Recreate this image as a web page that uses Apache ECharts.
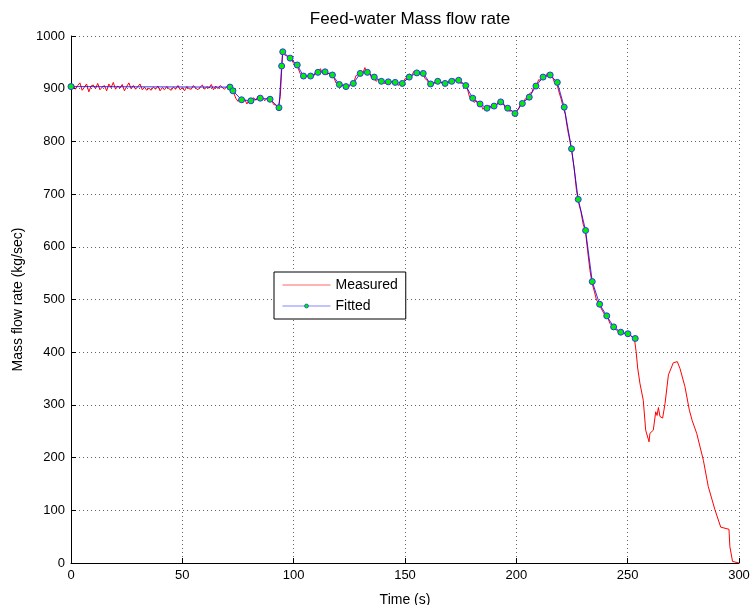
<!DOCTYPE html>
<html>
<head>
<meta charset="utf-8">
<script src="https://cdn.jsdelivr.net/npm/echarts@6/dist/echarts.min.js"></script>
<style>html,body{margin:0;padding:0;background:#fff;}#c{width:754px;height:605px;}</style>
</head>
<body>
<div id="c"></div>
<script>
// Measured flow, sampled every 1 s from t = 0 to t = 253
const sampleStart = 0;
const sampleStep = 1;
const measuredFlow = [
903,908,899,906,911,897,903,909,894,905,907,900,910,898,903,906,896,909,902,912,
899,905,901,908,896,904,911,900,906,899,904,909,898,903,897,901,897,903,899,905,
896,902,898,904,900,897,903,899,906,898,902,896,904,900,899,906,901,898,903,907,
899,904,901,908,898,905,900,906,902,899,904,909,
898,893,882,876,884,873,880,871,879,874,883,878,886,879,884,877,882,876,879,870,869,862,885,
968,964,962,956,955,948,944,939,928,926,919,925,920,929,924,933,929,938,929,935,927,930,922,922,911,912,
902,908,901,907,904,913,912,925,927,935,929,940,929,931,920,924,914,918,910,916,909,915,908,914,909,914,906,912,909,
919,918,928,925,933,927,933,926,931,919,916,907,913,909,917,910,914,907,913,909,917,912,919,914,919,910,911,903,900,
884,885,874,877,867,871,861,866,860,868,863,870,867,877,872,876,862,866,857,859,850,
858,861,873,871,881,879,891,893,906,905,917,916,925,921,930,923,925,913,914,896,882,866,851,823,802,
778,748,707,683,667,643,631,593,557,531,516,499,493,484,476,469,466,455,450,444,442,438,437,435,436,433,433,428,427
];
// Measured flow after the fitted range
const tailTime = [253.8,254.5,255.5,257,258.1,259.6,260,261.5,262.6,263.2,263.8,264.5,265.7,266.8,268.3,270.5,272.3,273.5,275.7,277.7,279,281,284,286.2,289.2,291.8,295.5,295.9,297.1,297.5,300];
const tailFlow = [401,370,341,309,252,230,246,252,287,280,295,278,275,303,357,380,382,369,335,290,270,246,195,145,101,68,64,31,3,0,0];

// Fitted points
const fittedTime = [0,71.4,72.7,76.6,80.8,85,89.4,93.4,94.6,95.1,98.4,101.6,104.4,107.6,110.9,114.1,117.4,120.5,123.5,126.8,129.9,133.1,136.2,139.4,142.5,145.6,148.8,151.9,155.3,158.2,161.5,164.7,168,171,174.1,177.3,180.4,183.7,186.8,190,193,196.1,199.4,202.7,205.8,208.8,212,215.2,218.4,221.5,224.8,227.8,231.1,234.1,237.4,240.6,243.7,246.9,250.1,253.4];
const fittedFlow = [904,903,896,879,877,882,880,864,943,970,958,945,924,924,931,932,926,908,904,910,929,931,922,914,913,912,910,922,930,929,909,914,910,914,916,906,882,871,863,867,875,863,853,872,884,905,922,926,912,865,786,690,631,534,491,469,448,438,435,426];

const xTicks = {min: 0, max: 300, interval: 50};
const yTicks = {min: 0, max: 1000, interval: 100};

const measured = measuredFlow.map((v, i) => [sampleStart + i * sampleStep, v])
  .concat(tailTime.map((t, i) => [t, tailFlow[i]]));
const fitted = fittedTime.map((t, i) => [t, fittedFlow[i]]);

const FONT = '"Liberation Sans", Arial, sans-serif';
const chart = echarts.init(document.getElementById('c'), null, {renderer: 'canvas'});
const gridLine = {show: true, lineStyle: {color: '#666', type: [1, 3], width: 1}};
chart.setOption({
  animation: false,
  backgroundColor: '#fff',
  title: {
    text: 'Feed-water Mass flow rate',
    left: 405, top: 6, textAlign: 'center',
    textStyle: {fontFamily: FONT, fontSize: 17, fontWeight: 'normal', color: '#000'}
  },
  grid: {left: 71, right: 15, top: 36, bottom: 42, containLabel: false, outerBoundsMode: 'none'},
  legend: {
    orient: 'vertical', left: 274, top: 272,
    backgroundColor: '#fff', borderColor: '#000', borderWidth: 1,
    padding: [6, 8, 6, 8], itemGap: 7, itemWidth: 48, itemHeight: 5,
    textStyle: {fontFamily: FONT, fontSize: 14, color: '#000'},
    data: [
      {name: 'Measured', itemStyle: {opacity: 0}, lineStyle: {color: '#ff6666', width: 1}},
      {name: 'Fitted', itemStyle: {color: '#00ee00', borderColor: '#0000ff', borderWidth: 0.5}, lineStyle: {color: '#6666ff', width: 1}}
    ]
  },
  xAxis: {
    type: 'value', min: xTicks.min, max: xTicks.max, interval: xTicks.interval,
    name: 'Time (s)', nameLocation: 'middle', nameGap: 30,
    nameTextStyle: {fontFamily: FONT, fontSize: 14, color: '#000'},
    axisLine: {lineStyle: {color: '#000', width: 1}},
    axisTick: {inside: true, length: 5, lineStyle: {color: '#000'}},
    axisLabel: {fontFamily: FONT, fontSize: 13, color: '#000', margin: 6},
    splitLine: gridLine
  },
  yAxis: {
    type: 'value', min: yTicks.min, max: yTicks.max, interval: yTicks.interval,
    name: 'Mass flow rate (kg/sec)', nameLocation: 'middle', nameGap: 44, nameRotate: 90,
    nameTextStyle: {fontFamily: FONT, fontSize: 14, color: '#000'},
    axisLine: {show: true, lineStyle: {color: '#000', width: 1}},
    axisTick: {show: true, inside: true, length: 5, lineStyle: {color: '#000'}},
    axisLabel: {fontFamily: FONT, fontSize: 13, color: '#000', margin: 6, formatter: v => String(v)},
    splitLine: gridLine
  },
  series: [
    {
      name: 'Measured', type: 'line', data: measured,
      showSymbol: false, symbol: 'none',
      lineStyle: {color: '#ff0000', width: 1}, itemStyle: {color: '#ff0000'},
      z: 2
    },
    {
      name: 'Fitted', type: 'line', data: fitted,
      symbol: 'circle', symbolSize: 6, showSymbol: true,
      lineStyle: {color: '#0000ff', width: 1, opacity: 0.8},
      itemStyle: {color: '#00ee00', borderColor: '#3333ff', borderWidth: 1},
      z: 3
    }
  ]
});
</script>
</body>
</html>
